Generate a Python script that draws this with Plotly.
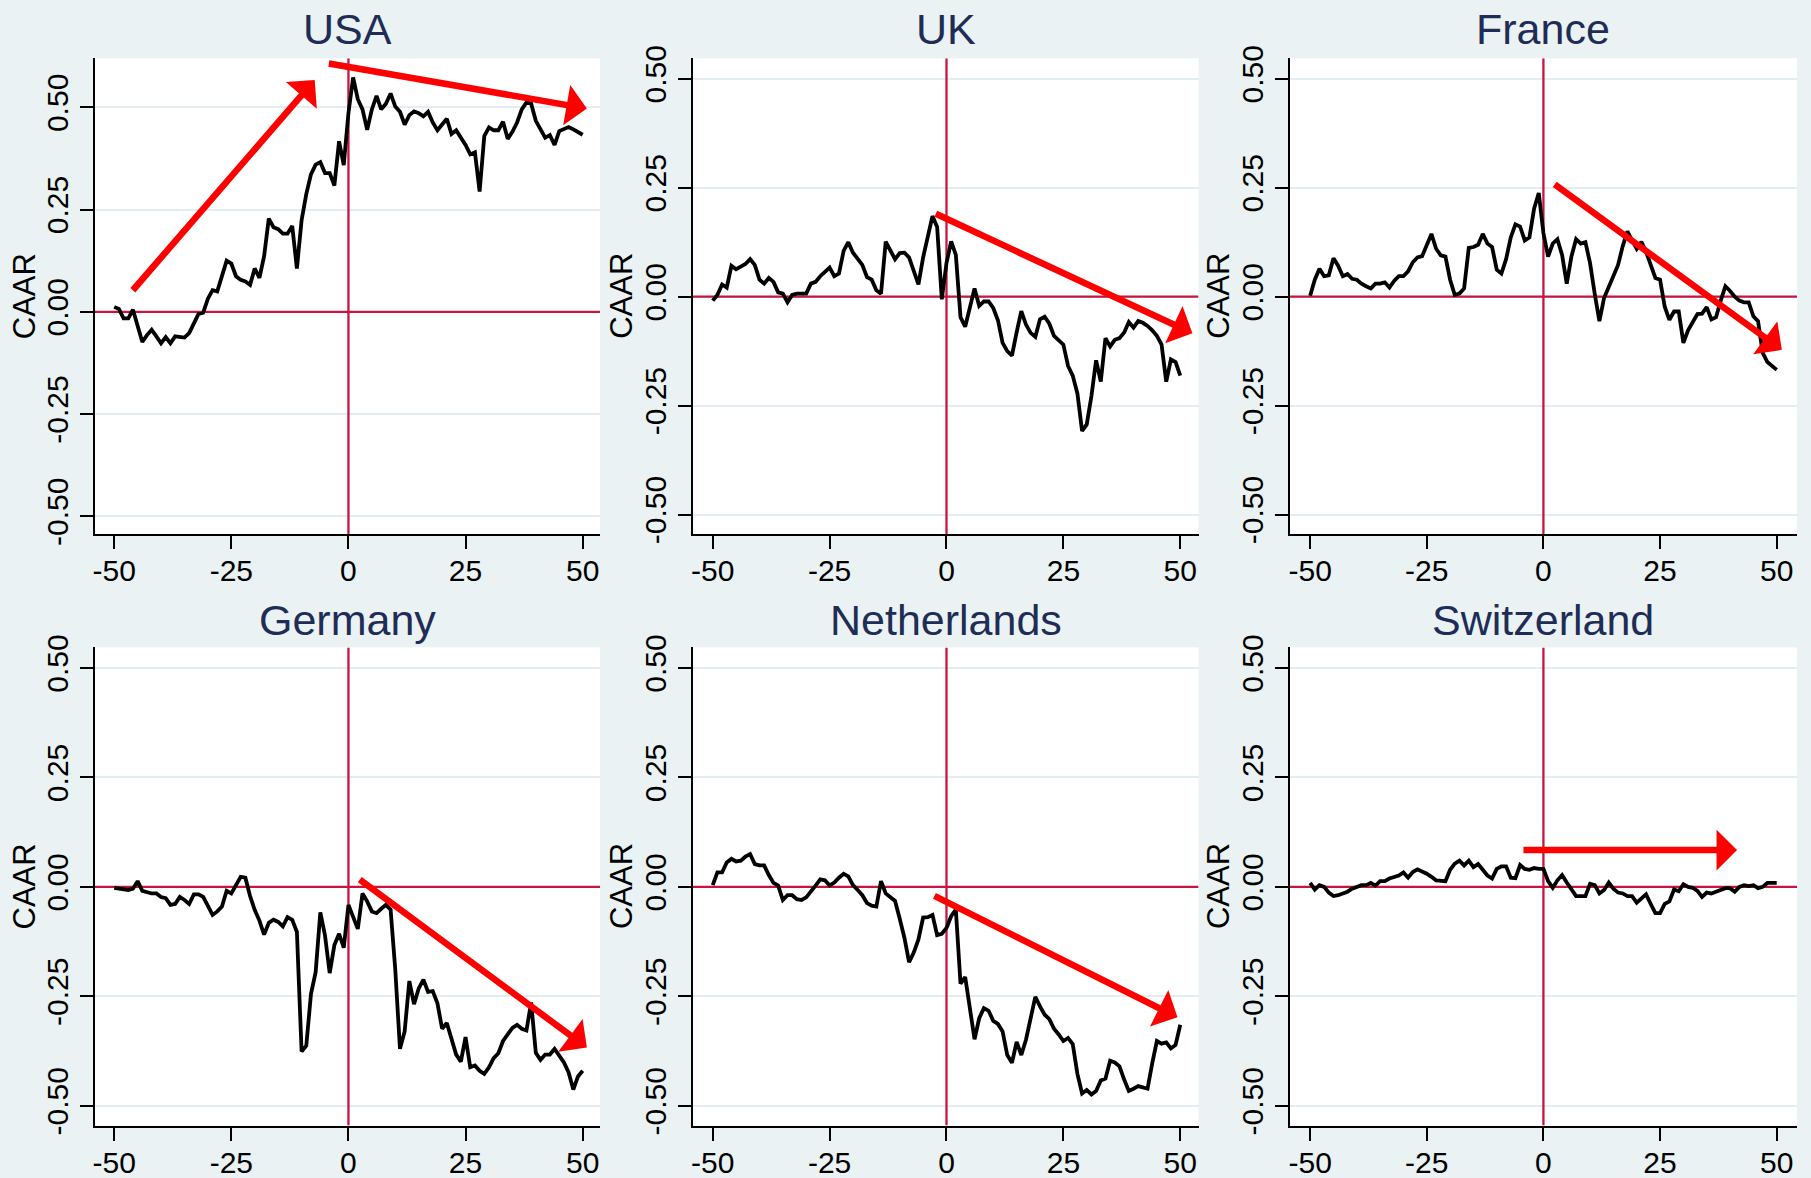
import plotly.graph_objects as go

# ---- cumulative average abnormal returns by event day ----
days_usa = [-50, -49, -48, -47, -46, -44, -43, -42, -41, -40, -39, -38, -37, -35, -34, -32, -31, -30,
            -29, -28, -26, -25, -24, -23, -22, -21, -20, -19, -18, -17, -16, -15, -14, -13, -12, -11,
            -10, -9, -8, -7, -6, -5, -4, -3, -2, -1, 0, 1, 2, 3, 4, 5, 6, 7, 8, 9, 10, 11, 12, 13,
            14, 15, 16, 17, 18, 19, 21, 22, 23, 24, 25, 26, 27, 28, 29, 30, 31, 32, 33, 34, 35, 36,
            37, 38, 39, 40, 42, 43, 44, 45, 46, 47, 48, 50]
caar_usa = [0.012, 0.007, -0.016, -0.016, 0.005, -0.074, -0.057, -0.044, -0.060, -0.077, -0.062,
            -0.077, -0.060, -0.063, -0.052, -0.005, -0.002, 0.032, 0.053, 0.050, 0.125, 0.118, 0.087,
            0.078, 0.074, 0.066, 0.106, 0.083, 0.136, 0.228, 0.207, 0.202, 0.191, 0.191, 0.210, 0.106,
            0.224, 0.288, 0.336, 0.360, 0.366, 0.339, 0.339, 0.309, 0.417, 0.359, 0.486, 0.573, 0.520,
            0.495, 0.445, 0.495, 0.528, 0.495, 0.509, 0.534, 0.502, 0.489, 0.458, 0.481, 0.490, 0.486,
            0.478, 0.489, 0.463, 0.444, 0.472, 0.435, 0.444, 0.426, 0.408, 0.385, 0.390, 0.294, 0.430,
            0.451, 0.444, 0.444, 0.465, 0.423, 0.440, 0.463, 0.495, 0.512, 0.509, 0.467, 0.426, 0.432,
            0.408, 0.442, 0.446, 0.452, 0.446, 0.433]

days_uk = [-50, -49, -48, -47, -46, -45, -44, -43, -42, -41, -40, -39, -38, -37, -36, -35, -34, -33,
           -32, -30, -29, -28, -27, -26, -25, -24, -23, -22, -21, -20, -19, -18, -17, -16, -15, -14,
           -13, -12, -11, -10, -9, -8, -7, -6, -5, -3, -2, -1, 0, 1, 2, 3, 4, 5, 6, 7, 8, 9, 10, 11,
           12, 13, 14, 15, 16, 17, 18, 19, 20, 21, 22, 23, 24, 25, 26, 27, 28, 29, 30, 31, 32, 33,
           34, 35, 36, 37, 38, 39, 40, 41, 42, 43, 44, 45, 46, 47, 48, 49, 50]
caar_uk = [-0.009, 0.004, 0.028, 0.021, 0.071, 0.063, 0.069, 0.075, 0.086, 0.073, 0.039, 0.030,
           0.043, 0.034, 0.010, 0.007, -0.013, 0.004, 0.007, 0.007, 0.030, 0.034, 0.047, 0.056, 0.067,
           0.047, 0.053, 0.105, 0.125, 0.101, 0.086, 0.073, 0.045, 0.039, 0.015, 0.007, 0.126, 0.107,
           0.086, 0.100, 0.101, 0.090, 0.060, 0.028, 0.090, 0.185, 0.160, -0.006, 0.077, 0.127, 0.096,
           -0.047, -0.069, -0.026, 0.019, -0.021, -0.011, -0.011, -0.026, -0.054, -0.106, -0.125,
           -0.135, -0.082, -0.033, -0.064, -0.083, -0.092, -0.052, -0.046, -0.062, -0.090, -0.099,
           -0.110, -0.159, -0.181, -0.222, -0.308, -0.293, -0.228, -0.146, -0.195, -0.095, -0.114,
           -0.099, -0.095, -0.082, -0.058, -0.071, -0.056, -0.060, -0.067, -0.077, -0.090, -0.110,
           -0.195, -0.144, -0.150, -0.181]

days_fr = list(range(-50, 51))
caar_fr = [0.002, 0.039, 0.064, 0.047, 0.049, 0.088, 0.071, 0.047, 0.052, 0.041, 0.039, 0.030,
           0.024, 0.019, 0.030, 0.030, 0.033, 0.021, 0.036, 0.047, 0.047, 0.058, 0.079, 0.090, 0.093,
           0.116, 0.144, 0.110, 0.095, 0.092, 0.039, 0.004, 0.007, 0.019, 0.112, 0.114, 0.119, 0.144,
           0.122, 0.114, 0.062, 0.053, 0.086, 0.136, 0.166, 0.161, 0.129, 0.136, 0.202, 0.238, 0.146,
           0.092, 0.122, 0.132, 0.096, 0.030, 0.092, 0.132, 0.122, 0.125, 0.077, 0.006, -0.056,
           -0.003, 0.024, 0.047, 0.073, 0.116, 0.150, 0.129, 0.110, 0.126, 0.103, 0.073, 0.043, 0.039,
           -0.023, -0.053, -0.034, -0.034, -0.106, -0.077, -0.060, -0.040, -0.039, -0.024, -0.052,
           -0.047, -0.009, 0.024, 0.013, 0.000, -0.009, -0.013, -0.013, -0.045, -0.056, -0.129,
           -0.150, -0.159, -0.168]

days_de = list(range(-50, 51))
caar_de = [-0.002, -0.004, -0.007, -0.007, -0.004, 0.013, -0.009, -0.013, -0.015, -0.015, -0.023,
           -0.026, -0.041, -0.039, -0.023, -0.030, -0.039, -0.017, -0.017, -0.023, -0.043, -0.064,
           -0.056, -0.045, -0.009, -0.015, 0.004, 0.023, 0.021, -0.021, -0.053, -0.077, -0.109,
           -0.082, -0.075, -0.080, -0.090, -0.069, -0.075, -0.103, -0.376, -0.363, -0.245, -0.195,
           -0.058, -0.111, -0.197, -0.133, -0.107, -0.139, -0.041, -0.067, -0.096, -0.015, -0.033,
           -0.056, -0.060, -0.050, -0.041, -0.052, -0.189, -0.370, -0.330, -0.215, -0.268, -0.232,
           -0.212, -0.240, -0.238, -0.266, -0.324, -0.311, -0.345, -0.383, -0.399, -0.343, -0.412,
           -0.408, -0.420, -0.427, -0.412, -0.391, -0.380, -0.352, -0.337, -0.322, -0.315, -0.324,
           -0.328, -0.264, -0.379, -0.395, -0.383, -0.383, -0.370, -0.386, -0.401, -0.424, -0.463,
           -0.433, -0.420]

days_nl = list(range(-50, 51))
caar_nl = [0.004, 0.033, 0.033, 0.056, 0.064, 0.058, 0.060, 0.069, 0.075, 0.052, 0.049, 0.049,
           0.027, 0.009, 0.003, -0.030, -0.019, -0.019, -0.028, -0.030, -0.024, -0.009, 0.003, 0.017,
           0.015, 0.003, 0.010, 0.021, 0.030, 0.024, 0.004, -0.007, -0.019, -0.037, -0.043, -0.045,
           0.013, -0.015, -0.024, -0.032, -0.073, -0.116, -0.172, -0.150, -0.120, -0.070, -0.069,
           -0.064, -0.110, -0.107, -0.094, -0.067, -0.052, -0.221, -0.206, -0.283, -0.348, -0.300,
           -0.277, -0.283, -0.306, -0.313, -0.330, -0.384, -0.402, -0.354, -0.384, -0.349, -0.300,
           -0.251, -0.273, -0.292, -0.302, -0.324, -0.337, -0.352, -0.345, -0.359, -0.427, -0.472,
           -0.464, -0.474, -0.466, -0.442, -0.438, -0.397, -0.401, -0.410, -0.440, -0.466, -0.461,
           -0.455, -0.458, -0.461, -0.403, -0.352, -0.358, -0.355, -0.369, -0.361, -0.315]

days_ch = [-50, -49, -48, -47, -46, -45, -44, -43, -42, -41, -39, -38, -37, -36, -35, -34, -33, -31,
           -30, -29, -28, -27, -26, -25, -24, -23, -21, -20, -19, -18, -17, -16, -15, -14, -13, -12,
           -11, -10, -9, -8, -7, -6, -5, -4, -3, -2, -1, 0, 1, 2, 3, 4, 5, 6, 7, 8, 9, 10, 11, 12,
           13, 14, 15, 16, 17, 18, 19, 20, 21, 22, 23, 24, 25, 26, 27, 28, 29, 30, 31, 32, 33, 34,
           35, 36, 37, 38, 39, 40, 41, 42, 43, 44, 45, 46, 47, 48, 49, 50]
caar_ch = [0.009, -0.006, 0.004, 0.000, -0.013, -0.021, -0.019, -0.015, -0.011, -0.004, 0.004,
           0.004, 0.009, 0.003, 0.013, 0.013, 0.019, 0.026, 0.033, 0.021, 0.034, 0.040, 0.036, 0.030,
           0.023, 0.015, 0.013, 0.039, 0.053, 0.060, 0.049, 0.060, 0.045, 0.052, 0.039, 0.026, 0.019,
           0.041, 0.047, 0.047, 0.021, 0.020, 0.050, 0.041, 0.039, 0.043, 0.041, 0.041, 0.013,
           -0.002, 0.015, 0.027, 0.010, -0.004, -0.021, -0.021, -0.021, 0.007, 0.004, -0.015, -0.007,
           0.010, -0.004, -0.013, -0.015, -0.021, -0.021, -0.036, -0.026, -0.017, -0.039, -0.060,
           -0.060, -0.039, -0.033, -0.006, -0.010, 0.006, 0.000, -0.002, -0.009, -0.023, -0.013,
           -0.015, -0.011, -0.006, -0.003, -0.003, -0.011, 0.000, 0.004, 0.002, 0.004, -0.003, 0.000,
           0.009, 0.009, 0.009]

# ---- trend arrows (tail day, tail CAAR, head day, head CAAR) ----
trend_usa = [(-46.3, 0.049, -7.2, 0.567), (-4.5, 0.608, 50.9, 0.497)]
trend_uk = [(-2.6, 0.192, 52.6, -0.084)]
trend_fr = [(2.1, 0.260, 51.1, -0.122)]
trend_de = [(2.1, 0.019, 50.9, -0.367)]
trend_nl = [(-2.9, -0.019, 49.4, -0.298)]
trend_ch = [(-4.6, 0.084, 41.5, 0.084)]

y_ticks = [-0.5, -0.25, 0.0, 0.25, 0.5]
y_tick_text = ["-0.50", "-0.25", "0.00", "0.25", "0.50"]
x_ticks = [-50, -25, 0, 25, 50]
x_tick_text = ["-50", "-25", "0", "25", "50"]

panels = [
    ("USA", days_usa, caar_usa, trend_usa, [-0.544, 0.62]),
    ("UK", days_uk, caar_uk, trend_uk, [-0.545, 0.547]),
    ("France", days_fr, caar_fr, trend_fr, [-0.545, 0.547]),
    ("Germany", days_de, caar_de, trend_de, [-0.545, 0.547]),
    ("Netherlands", days_nl, caar_nl, trend_nl, [-0.545, 0.547]),
    ("Switzerland", days_ch, caar_ch, trend_ch, [-0.545, 0.547]),
]

# ---- page geometry (pixels) ----
W, H = 1811, 1178
col_px = [(95, 600), (692.6, 1198.5), (1289.6, 1797)]
row_px = [(58.3, 534.2), (647.4, 1125.5)]
x_ranges = [[-54.1, 53.7], [-54.3, 53.9], [-54.4, 54.35]]
title_px = [28.8, 620]

FONT = "Liberation Sans, Arial, sans-serif"
BG = "#eaf2f3"
GRID = "#e4edf1"
REF = "#c8143f"
NAVY = "#1e2d55"
ARROW = "#ff0000"

fig = go.Figure()
annotations = []
layout = {}

for i, (name, days, caar, trends, yrange) in enumerate(panels):
    r, c = divmod(i, 3)
    k = "" if i == 0 else str(i + 1)
    xa, ya = "x" + k, "y" + k
    x0, x1 = col_px[c]
    y0, y1 = row_px[r]
    xrange = x_ranges[c]

    # reference lines at zero CAAR and event day 0
    fig.add_trace(go.Scatter(
        x=xrange, y=[0, 0], mode="lines", xaxis=xa, yaxis=ya,
        line=dict(color=REF, width=2.3), showlegend=False, hoverinfo="skip",
    ))
    fig.add_trace(go.Scatter(
        x=[0, 0], y=yrange, mode="lines", xaxis=xa, yaxis=ya,
        line=dict(color=REF, width=2.3), showlegend=False, hoverinfo="skip",
    ))
    # CAAR series
    fig.add_trace(go.Scatter(
        x=days, y=caar, mode="lines", xaxis=xa, yaxis=ya,
        line=dict(color="black", width=3.8), showlegend=False, hoverinfo="skip",
    ))

    layout["xaxis" + k] = dict(
        domain=[x0 / W, x1 / W], anchor=ya, range=xrange, automargin=False,
        tickmode="array", tickvals=x_ticks, ticktext=x_tick_text,
        ticks="outside", ticklen=13, tickwidth=2, ticklabelstandoff=-4,
        tickcolor="black", showline=True, linecolor="black", linewidth=2,
        showgrid=False, zeroline=False,
        tickfont=dict(family=FONT, size=30, color="black"),
    )
    layout["yaxis" + k] = dict(
        domain=[1 - y1 / H, 1 - y0 / H], anchor=xa, range=yrange, automargin=False,
        tickmode="array", tickvals=y_ticks, ticktext=y_tick_text, tickangle=-90,
        ticks="outside", ticklen=13, tickwidth=2, tickcolor="black",
        showline=True, linecolor="black", linewidth=2,
        showgrid=True, gridcolor=GRID, gridwidth=2, zeroline=False,
        tickfont=dict(family=FONT, size=30, color="black"),
    )

    # panel title
    annotations.append(dict(
        text=name, xref="paper", yref="paper", x=(x0 + x1) / 2 / W, y=1 - title_px[r] / H,
        xanchor="center", yanchor="middle", showarrow=False,
        font=dict(family=FONT, size=43, color=NAVY),
    ))
    # y-axis title
    annotations.append(dict(
        text="CAAR", xref="paper", yref="paper", x=(x0 - 71) / W, y=1 - (y0 + y1) / 2 / H,
        xanchor="center", yanchor="middle", textangle=-90, showarrow=False,
        font=dict(family=FONT, size=31, color="black"),
    ))
    # trend arrows
    for tx, ty, hx, hy in trends:
        annotations.append(dict(
            x=hx, y=hy, ax=tx, ay=ty, xref=xa, yref=ya, axref=xa, ayref=ya,
            showarrow=True, arrowhead=1, arrowsize=1.05, arrowwidth=6.5, arrowcolor=ARROW,
            standoff=0, text="",
        ))

fig.update_layout(
    width=W, height=H, margin=dict(l=0, r=0, t=0, b=0, autoexpand=False),
    paper_bgcolor=BG, plot_bgcolor="white",
    annotations=annotations, showlegend=False,
    **layout,
)

fig.write_html("out.html")
